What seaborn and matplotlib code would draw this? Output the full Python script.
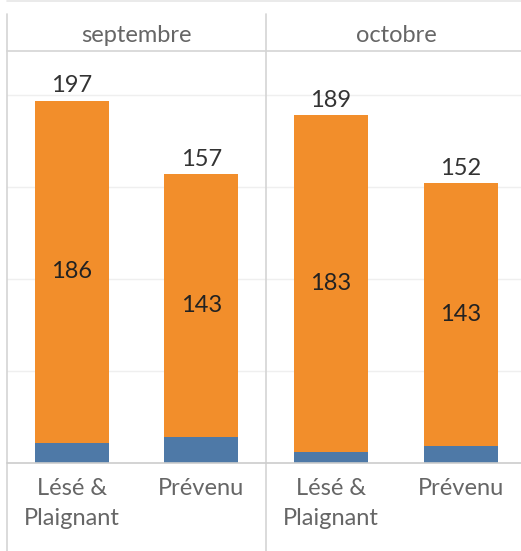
import seaborn as sns
import matplotlib.pyplot as plt
from matplotlib.lines import Line2D

# data
months = ["septembre", "octobre"]
categories = ["Lésé &\nPlaignant", "Prévenu"]
orange_vals = [[186, 143], [183, 143]]
blue_vals = [[11, 14], [6, 9]]

ORANGE = "#F28E2B"
BLUE = "#4E79A7"
FS = 17

sns.set_style("white")
plt.rcParams['font.family'] = ['Lato', 'DejaVu Sans']

W, H = 521, 551
fig = plt.figure(figsize=(W / 100, H / 100), dpi=100)

def fx(px):
    return px / W

def fy(py):
    return 1 - py / H

top_px, base_px = 51, 463
panels = [(7, 259), (266, 260)]

for i, month in enumerate(months):
    left, width = panels[i]
    ax = fig.add_axes([fx(left), fy(base_px), width / W, (base_px - top_px) / H])
    totals = [b + o for b, o in zip(blue_vals[i], orange_vals[i])]
    sns.barplot(x=categories, y=totals, color=ORANGE, width=0.57, ax=ax,
                saturation=1, linewidth=0, zorder=2)
    sns.barplot(x=categories, y=blue_vals[i], color=BLUE, width=0.57, ax=ax,
                saturation=1, linewidth=0, zorder=3)
    ax.set_ylim(0, 224)
    ax.set_xlim(-0.5, 1.5)
    for g in [50, 100, 150, 200]:
        ax.axhline(g, color="#efefef", lw=1, zorder=0)
    for j in range(len(categories)):
        ax.annotate(str(totals[j]), (j, totals[j]), xytext=(0, 3),
                    textcoords="offset points", ha="center", va="bottom",
                    fontsize=FS, color="#333333")
        ax.text(j, blue_vals[i][j] + orange_vals[i][j] / 2, str(orange_vals[i][j]),
                ha="center", va="center", fontsize=FS, color="#222222", zorder=4)
    ax.set_yticks([])
    ax.tick_params(axis="x", length=0, pad=11, labelsize=FS, labelcolor="#666666")
    for lbl in ax.get_xticklabels():
        lbl.set_linespacing(1.5)
    for s in ax.spines.values():
        s.set_visible(False)
    ax.set_xlabel("")
    ax.set_ylabel("")
    fig.text(fx(left + width / 2), fy(36), month, ha="center", va="center",
             fontsize=FS, color="#666666")

# frame lines
line_col = "#d4d4d4"
for x in [7, 266]:
    fig.add_artist(Line2D([fx(x), fx(x)], [fy(14), 0], color=line_col, lw=1.2))
fig.add_artist(Line2D([fx(7), 1], [fy(1), fy(1)], color="#e6e6e6", lw=1.2))
fig.add_artist(Line2D([fx(7), 1], [fy(top_px), fy(top_px)], color=line_col, lw=1.2))
fig.add_artist(Line2D([fx(7), 1], [fy(base_px), fy(base_px)], color="#cccccc", lw=1.2))

fig.savefig("out.png", dpi=100)
